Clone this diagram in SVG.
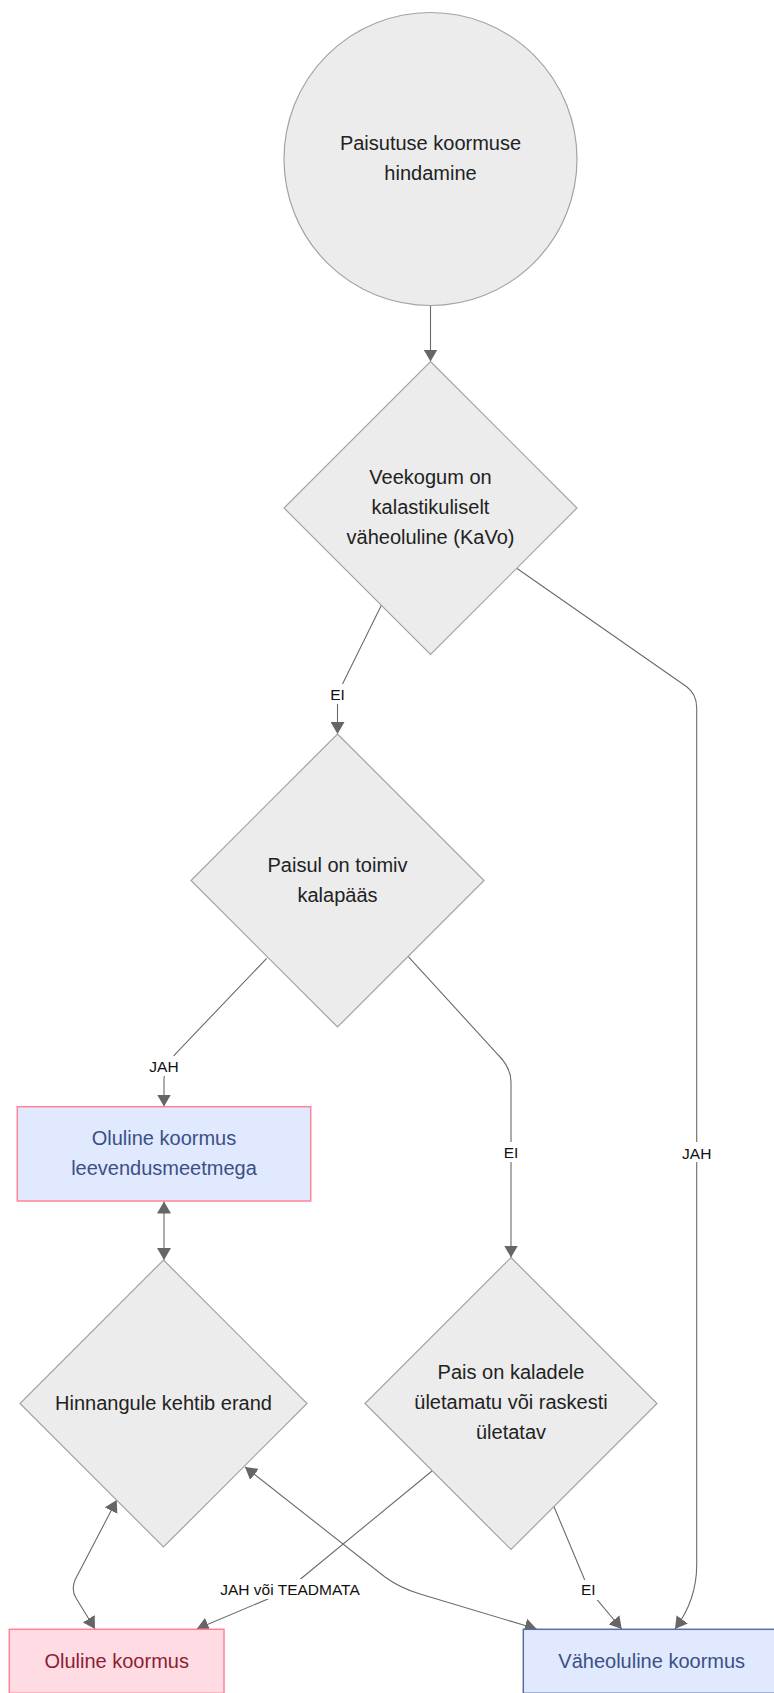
<svg xmlns="http://www.w3.org/2000/svg" width="774" height="1693" viewBox="0 0 774 1693">
<defs>
<marker id="arr" viewBox="0 0 12 14" refX="12" refY="7" markerWidth="12" markerHeight="14" markerUnits="userSpaceOnUse" orient="auto-start-reverse">
<path d="M0,0 L12,7 L0,14 z" fill="#666666"/>
</marker>
<style>
.dec{fill:#ececec;stroke:#a3a3a3;stroke-width:1.2}
.nt{font-family:"Liberation Sans",Arial,sans-serif;font-size:20px;fill:#222222;text-anchor:middle}
.lt{font-family:"Liberation Sans",Arial,sans-serif;font-size:15.5px;fill:#111111;text-anchor:middle}
.e{fill:none;stroke:#6b6b6b;stroke-width:1.1}
.lb{fill:#ffffff}
.blue{fill:#e0e9fe}
.pink{fill:#ffdce3;stroke:#ff8297;stroke-width:1.5}
.bt{fill:#3c4f86}
.pt{fill:#8c1d34}
</style>
</defs>
<rect width="774" height="1693" fill="#ffffff"/>

<g id="edges">
<path class="e" d="M430.5,305.5 L430.5,361.5" marker-end="url(#arr)"/>
<path class="e" d="M381.5,605 L343.5,682 Q337.5,694 337.5,706 L337.5,734" marker-end="url(#arr)"/>
<path class="e" d="M516.7,568.3 L686.7,686.7 Q696.7,694 696.7,708 L696.7,1565 Q696.7,1600 675,1629" marker-end="url(#arr)"/>
<path class="e" d="M266.7,958.3 L176,1053.3 Q164,1066 164,1079 L164,1106.5" marker-end="url(#arr)"/>
<path class="e" d="M408.3,956.7 L498.3,1055 Q511,1068 511,1082 L511,1257.5" marker-end="url(#arr)"/>
<path class="e" d="M164,1201.5 L164,1260" marker-start="url(#arr)" marker-end="url(#arr)"/>
<path class="e" d="M432,1471 L303,1577 Q290,1588 275,1596 L196.7,1629" marker-end="url(#arr)"/>
<path class="e" d="M554,1506.7 L584,1578.3 Q588,1590 596,1598.3 L621.7,1629" marker-end="url(#arr)"/>
<path class="e" d="M245,1467 L385,1577 Q400,1588 420,1594 L536.7,1629" marker-start="url(#arr)" marker-end="url(#arr)"/>
<path class="e" d="M116.7,1500 L75,1580 Q71,1590 76,1598 L95,1629" marker-start="url(#arr)" marker-end="url(#arr)"/>
<g id="edge-labels">
<rect class="lb" x="326" y="684" width="23" height="20"/>
<text class="lt" x="337.5" y="699.5">EI</text>
<rect class="lb" x="147" y="1056" width="34" height="20"/>
<text class="lt" x="164" y="1072">JAH</text>
<rect class="lb" x="680" y="1142" width="34" height="20"/>
<text class="lt" x="696.7" y="1158.5">JAH</text>
<rect class="lb" x="500" y="1142" width="23" height="20"/>
<text class="lt" x="511" y="1157.5">EI</text>
<rect class="lb" x="217" y="1579" width="146" height="20"/>
<text class="lt" x="290" y="1595">JAH või TEADMATA</text>
<rect class="lb" x="577" y="1580" width="23" height="20"/>
<text class="lt" x="588.3" y="1595">EI</text>
</g>
</g>

<g id="start">
<circle class="dec" cx="430.5" cy="159" r="146.5"/>
<text class="nt" x="430.5" y="150">Paisutuse koormuse</text>
<text class="nt" x="430.5" y="180">hindamine</text>
</g>

<g id="kavo">
<polygon class="dec" points="430.5,361.5 577,508 430.5,654.5 284,508"/>
<text class="nt" x="430.5" y="484">Veekogum on</text>
<text class="nt" x="430.5" y="514">kalastikuliselt</text>
<text class="nt" x="430.5" y="544">väheoluline (KaVo)</text>
</g>

<g id="kalapaas">
<polygon class="dec" points="337.5,734 484,880.5 337.5,1027 191,880.5"/>
<text class="nt" x="337.5" y="872">Paisul on toimiv</text>
<text class="nt" x="337.5" y="902">kalapääs</text>
</g>

<g id="leevendus">
<rect class="blue" x="17.3" y="1106.7" width="293.4" height="94.3" stroke="#ff8297" stroke-width="1.5"/>
<text class="nt bt" x="164" y="1145">Oluline koormus</text>
<text class="nt bt" x="164" y="1175">leevendusmeetmega</text>
</g>

<g id="erand">
<polygon class="dec" points="163.5,1260 307,1403.5 163.5,1547 20,1403.5"/>
<text class="nt" x="163.5" y="1410">Hinnangule kehtib erand</text>
</g>

<g id="uletamatu">
<polygon class="dec" points="511,1257.5 657,1403.5 511,1549.5 365,1403.5"/>
<text class="nt" x="511" y="1379">Pais on kaladele</text>
<text class="nt" x="511" y="1409">ületamatu või raskesti</text>
<text class="nt" x="511" y="1439">ületatav</text>
</g>

<g id="oluline">
<rect class="pink" x="9.3" y="1629.3" width="214.7" height="64"/>
<text class="nt pt" x="116.7" y="1668.3">Oluline koormus</text>
</g>

<g id="vaheoluline">
<rect class="blue" x="523.3" y="1629.3" width="256.7" height="64" stroke="#5b6e9e" stroke-width="1.5"/>
<text class="nt bt" x="651.7" y="1668.3">Väheoluline koormus</text>
</g>
</svg>
